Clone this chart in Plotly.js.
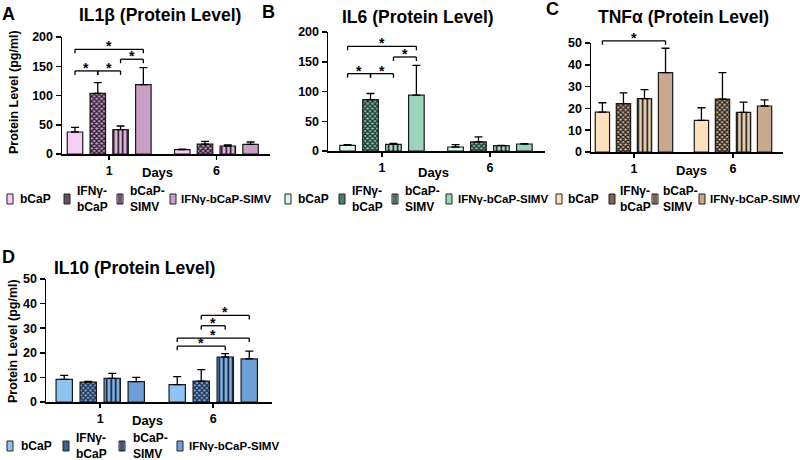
<!DOCTYPE html>
<html><head><meta charset="utf-8">
<script src="https://cdn.plot.ly/plotly-3.0.1.min.js"></script>
<style>html,body{margin:0;padding:0;background:#fff}#chart{width:800px;height:460px}</style>
</head><body><div id="chart"></div>
<script>
// ---------- data ----------
const days = ['1', '6'];
const groupNames = ['bCaP', 'IFNγ-bCaP', 'bCaP-SIMV', 'IFNγ-bCaP-SIMV'];
const legendLabels = ['bCaP', 'IFNγ-<br>bCaP', 'bCaP-<br>SIMV', 'IFNγ-bCaP-SIMV'];

// means per group: [day1, day6]
const il1bMeans = [[37.6, 7.4], [103.7, 17.0], [41.6, 13.7], [118.5, 16.5]];
const il1bErrs  = [[8.0, 1.1], [18.3, 4.7], [6.3, 1.7], [29.1, 4.0]];
const il6Means  = [[9.6, 6.7], [86.5, 15.2], [11.2, 9.0], [93.8, 11.8]];
const il6Errs   = [[1.1, 4.0], [10.1, 8.4], [1.7, 0.5], [50.0, 0.5]];
const tnfMeans  = [[18.3, 14.5], [22.2, 24.3], [24.5, 18.2], [36.4, 21.1]];
const tnfErrs   = [[4.3, 5.8], [4.9, 12.1], [4.1, 4.7], [11.2, 2.8]];
const il10Means = [[9.2, 7.1], [8.1, 8.5], [9.6, 18.3], [8.3, 17.5]];
const il10Errs  = [[1.6, 3.2], [0.3, 4.7], [2.0, 1.4], [1.7, 3.2]];

// significance brackets: [dayIndex, groupA, groupB, height]
const il1bSig = [[0, 0, 1, 142], [0, 1, 2, 142], [0, 2, 3, 162], [0, 0, 3, 179]];
const il6Sig  = [[0, 0, 1, 130], [0, 1, 2, 130], [0, 2, 3, 158], [0, 0, 3, 176]];
const tnfSig  = [[0, 0, 3, 51]];
const il10Sig = [[1, 0, 2, 22.7], [1, 0, 3, 26], [1, 1, 2, 31], [1, 1, 3, 35.2]];

// ---------- layout config ----------
const W = 800, H = 460;
const FONT = 'Liberation Sans, Arial, sans-serif';
const BARGAP = 0.15, GROUPGAP = 0.32;

const panels = [
  {n: 1, letter: 'A', title: 'IL1β (Protein Level)', means: il1bMeans, errs: il1bErrs, sig: il1bSig,
   px: [62, 270], py: [37, 154], yr: [0, 200], dtick: 50, xr: [0.56, 2.5],
   colors: ['#f6cdf3', '#d8a9d5', '#e2b2df', '#c99fc8'], dark: '#2e1f2c', mix: '#6a4c67',
   letterPos: [8, 14], titlePos: [160, 15], daysPos: [157, 172], ylabelPos: [14, 92],
   legY: 199, legBox: [7, 64, 117, 170], legText: [18, 75, 128, 179]},
  {n: 2, letter: 'B', title: 'IL6 (Protein Level)', means: il6Means, errs: il6Errs, sig: il6Sig,
   px: [328, 545], py: [32, 151], yr: [0, 200], dtick: 50, xr: [0.5, 2.51],
   colors: ['#d8f6ee', '#94cdbb', '#a8dccb', '#9ad4bd'], dark: '#1d3731', mix: '#4f7a6e',
   letterPos: [268, 12], titlePos: [418, 17], daysPos: [433, 173], ylabelPos: null,
   legY: 199, legBox: [285, 339, 392, 446], legText: [296, 350, 403, 456]},
  {n: 3, letter: 'C', title: 'TNFα (Protein Level)', means: tnfMeans, errs: tnfErrs, sig: tnfSig,
   px: [591, 783], py: [43, 152], yr: [0, 50], dtick: 10, xr: [0.566, 2.505],
   colors: ['#fde1bd', '#d9c0a6', '#e8d0b2', '#c8a98e'], dark: '#2a231d', mix: '#7a6856',
   letterPos: [552, 9], titlePos: [683, 17], daysPos: [691, 171], ylabelPos: null,
   legY: 199, legBox: [556, 609, 652, 699], legText: [566, 618, 661, 708]},
  {n: 4, letter: 'D', title: 'IL10 (Protein Level)', means: il10Means, errs: il10Errs, sig: il10Sig,
   px: [46, 272], py: [279, 402], yr: [0, 50], dtick: 10, xr: [0.52, 2.52],
   colors: ['#8dc4f4', '#8cb7ec', '#7cb2ee', '#6f9fd8'], dark: '#1b2c4c', mix: '#3f5f8f',
   letterPos: [8, 257], titlePos: [134, 268], daysPos: [147, 420], ylabelPos: [13, 341],
   legY: 446, legBox: [7, 63, 119, 177], legText: [19, 74, 131, 187]}
];

const toPX = (px) => px / W;
const toPY = (py) => 1 - py / H;

const traces = [];
const shapes = [];
const annotations = [];
const layout = {
  width: W, height: H, margin: {l: 0, r: 0, t: 0, b: 0},
  paper_bgcolor: '#fff', plot_bgcolor: 'rgba(0,0,0,0)',
  barmode: 'group', bargap: BARGAP, bargroupgap: GROUPGAP,
  showlegend: false,
  font: {family: FONT, color: '#000', size: 12, weight: 'bold'},
};

function ann(text, px, py, size, extra) {
  annotations.push(Object.assign({
    text: text, x: toPX(px), y: toPY(py), xref: 'paper', yref: 'paper',
    showarrow: false, xanchor: 'center', yanchor: 'middle',
    font: {family: FONT, size: size, color: '#000', weight: 'bold'}
  }, extra || {}));
}
function line(x0, y0, x1, y1, w) {
  shapes.push({type: 'line', xref: 'paper', yref: 'paper', x0: x0, y0: y0, x1: x1, y1: y1,
    line: {color: '#000', width: w || 1.3}});
}

panels.forEach((p) => {
  const sx = p.n === 1 ? '' : String(p.n);
  const xa = 'x' + sx, ya = 'y' + sx;
  const xdom = [toPX(p.px[0]), toPX(p.px[1])];
  const ydom = [toPY(p.py[1]), toPY(p.py[0])];

  layout['xaxis' + sx] = {
    domain: xdom, anchor: ya, range: p.xr, tickvals: [1, 2], ticktext: days,
    ticks: 'outside', ticklen: 4, tickwidth: 1.5, tickcolor: '#000',
    showline: true, linecolor: '#000', linewidth: 1.5, showgrid: false, zeroline: false,
    tickfont: {family: FONT, size: 12.5, weight: 'bold', color: '#000'}, fixedrange: true
  };
  layout['yaxis' + sx] = {
    domain: ydom, anchor: xa, range: p.yr, dtick: p.dtick, tick0: 0,
    ticks: 'outside', ticklen: 5, tickwidth: 1.5, tickcolor: '#000',
    showline: true, linecolor: '#000', linewidth: 1.5, showgrid: false, zeroline: false,
    tickfont: {family: FONT, size: 12.5, weight: 'bold', color: '#000'}, fixedrange: true
  };

  groupNames.forEach((g, i) => {
    const marker = {color: p.colors[i], line: {color: '#1a1a1a', width: 1.2}};
    if (i === 1) marker.pattern = {shape: 'x', size: 3.5, solidity: 0.65, fgcolor: p.dark, bgcolor: p.colors[i], fillmode: 'replace'};
    if (i === 2) marker.pattern = {shape: '|', size: 4.5, solidity: 0.35, fgcolor: '#111', bgcolor: p.colors[i], fillmode: 'replace'};
    traces.push({
      type: 'bar', name: g, x: [1, 2], y: p.means[i], xaxis: xa, yaxis: ya,
      marker: marker, showlegend: false, hoverinfo: 'skip',
      error_y: {type: 'data', symmetric: false, array: p.errs[i], arrayminus: [0, 0],
        color: '#000', thickness: 1.3, width: 4}
    });
  });

  // significance brackets (positions derived from axis ranges and bar grouping)
  const gw = 1 - BARGAP;
  const barX = (d, i) => (d + 1) - gw / 2 + (i + 0.5) * gw / 4;
  const dx2p = (v) => xdom[0] + (v - p.xr[0]) / (p.xr[1] - p.xr[0]) * (xdom[1] - xdom[0]);
  const dy2p = (v) => ydom[0] + (v - p.yr[0]) / (p.yr[1] - p.yr[0]) * (ydom[1] - ydom[0]);
  const tip = 4 / H;
  p.sig.forEach(([d, a, b, h]) => {
    const x0 = dx2p(barX(d, a)), x1 = dx2p(barX(d, b)), y = dy2p(h);
    line(x0, y, x1, y);
    line(x0, y, x0, y - tip);
    line(x1, y, x1, y - tip);
    annotations.push({text: '*', x: (x0 + x1) / 2, y: y, xref: 'paper', yref: 'paper',
      showarrow: false, xanchor: 'center', yanchor: 'middle', yshift: 3,
      font: {family: FONT, size: 14, color: '#000', weight: 'bold'}});
  });

  // texts
  ann(p.letter, p.letterPos[0], p.letterPos[1], 18);
  ann(p.title, p.titlePos[0], p.titlePos[1], 17.5);
  ann('Days', p.daysPos[0], p.daysPos[1], 13);
  if (p.ylabelPos) ann('Protein Level (pg/ml)', p.ylabelPos[0], p.ylabelPos[1], 12.5, {textangle: -90});

  // legend (manual)
  groupNames.forEach((g, i) => {
    const bx = p.legBox[i], by = p.legY;
    shapes.push({type: 'rect', xref: 'paper', yref: 'paper',
      x0: toPX(bx), x1: toPX(bx + 6), y0: toPY(by + 5), y1: toPY(by - 5),
      fillcolor: i === 1 ? p.mix : p.colors[i], line: {color: '#222', width: 1}});
    if (i === 2) {
      line(toPX(bx + 2), toPY(by + 5), toPX(bx + 2), toPY(by - 5), 1);
      line(toPX(bx + 4), toPY(by + 5), toPX(bx + 4), toPY(by - 5), 1);
    }
    const sz = i === 3 ? 11.5 : 12;
    ann(legendLabels[i], p.legText[i], by, sz, {xanchor: 'left', align: 'left'});
  });
});

layout.shapes = shapes;
layout.annotations = annotations;
Plotly.newPlot('chart', traces, layout, {displayModeBar: false, staticPlot: true});
</script>
</body></html>
